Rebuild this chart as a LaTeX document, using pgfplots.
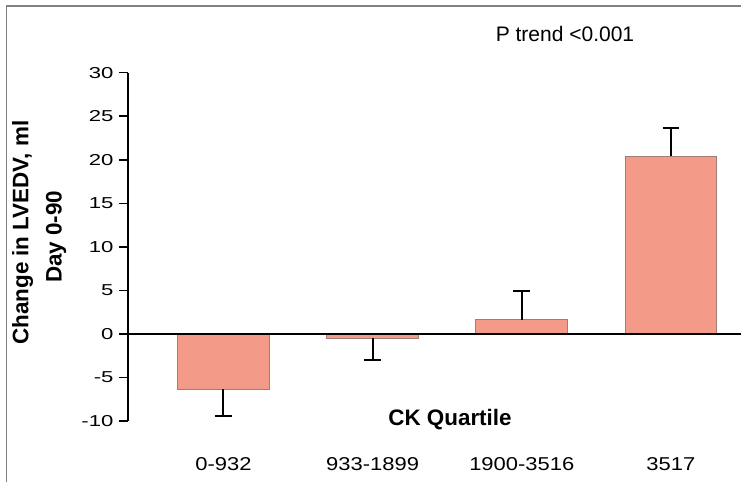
\documentclass[border=0pt]{standalone}
\usepackage{fontspec}
\setmainfont{Liberation Sans}
\newfontfamily\ytickfont{Liberation Sans}[FakeStretch=1.4]
\newfontfamily\xtickfont{Liberation Sans}[FakeStretch=1.18]
\usepackage{pgfplots}
\pgfplotsset{compat=1.18}
\definecolor{barfill}{RGB}{243,154,136}
\definecolor{baredge}{RGB}{160,125,118}
\definecolor{framegray}{RGB}{130,130,130}
\begin{document}
\begin{tikzpicture}
\useasboundingbox (0,0) rectangle (741pt,482pt);
\draw[framegray, line width=1.5pt] (6.7pt,0) -- (6.7pt,476pt) -- (741pt,476pt);
\begin{axis}[
  at={(128pt,61pt)}, anchor=south west,
  scale only axis, width=613pt, height=348.3pt,
  xmin=-0.64, xmax=3.47, ymin=-10, ymax=30,
  clip=false,
  axis lines*=left,
  x axis line style={draw=none},
  y axis line style={-, line width=1.5pt, black},
  xtick={0,1,2,3},
  xticklabels={0-932,933-1899,1900-3516,3517},
  major x tick style={draw=none},
  ytick={-10,-5,0,5,10,15,20,25,30},
  yticklabels={-10,-5,0,5,10,15,20,25,30},
  ytick pos=left,
  tick align=outside,
  major tick length=9pt,
  major y tick style={line width=1.5pt, black},
  yticklabel style={font=\ytickfont\fontsize{15.8}{18}\selectfont, anchor=east, xshift=-2pt},
  xticklabel style={font=\xtickfont\fontsize{18.6}{22}\selectfont, anchor=base, yshift=-40pt},
]
\addplot[ybar, bar width=91.8pt, fill=barfill, draw=baredge, line width=0.8pt]
  coordinates {(0,-6.35) (1,-0.5) (2,1.62) (3,20.4)};
\addplot[black, line width=1.5pt, forget plot] coordinates {(-0.64,0) (3.47,0)};
\addplot[draw=none, mark=none, forget plot,
  error bars/.cd, y dir=minus, y explicit,
  error bar style={line width=2pt, black},
  error mark options={line width=2pt, mark size=8.3pt, black, rotate=90}]
  coordinates {(0,-6.35) +- (0,3.07) (1,-0.5) +- (0,2.46)};
\addplot[draw=none, mark=none, forget plot,
  error bars/.cd, y dir=plus, y explicit,
  error bar style={line width=2pt, black},
  error mark options={line width=2pt, mark size=8.3pt, black, rotate=90}]
  coordinates {(2,1.62) +- (0,3.3) (3,20.4) +- (0,3.3)};
\end{axis}
\node[anchor=base, inner sep=0, font=\fontsize{21}{25}\selectfont] at (565pt,440.3pt) {P trend <0.001};
\node[anchor=base, inner sep=0, font=\bfseries\fontsize{22.4}{26}\selectfont] at (450pt,57pt) {CK Quartile};
\node[rotate=90, anchor=base, inner sep=0, font=\bfseries\fontsize{22.4}{26}\selectfont] at (28.3pt,249.4pt) {Change in LVEDV, ml};
\node[rotate=90, anchor=base, inner sep=0, font=\bfseries\fontsize{22.4}{26}\selectfont] at (61.7pt,245.3pt) {Day 0-90};
\end{tikzpicture}
\end{document}
